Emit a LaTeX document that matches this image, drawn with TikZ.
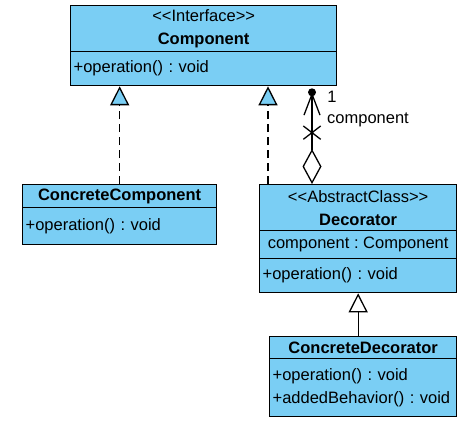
\documentclass[tikz,border=0pt]{standalone}
\usepackage{fontspec}
\setmainfont{Liberation Sans}
\usepackage{xcolor}
\usetikzlibrary{arrows.meta,shapes.misc}
\definecolor{umlblue}{RGB}{122,206,244}
\frenchspacing

\tikzset{
  part/.style={draw, fill=umlblue, line width=1.3pt, anchor=north west, inner ysep=0pt,
    font=\fontsize{16.5}{23}\selectfont},
  head/.style={part, align=center},
  ops/.style={part, align=left, inner xsep=3pt},
  real/.style={line width=1.3pt, dash pattern=on 8pt off 5pt,
    -{Triangle[fill=umlblue, length=19pt, width=19pt]}},
  inherit/.style={line width=1.3pt, -{Triangle[fill=white, length=19pt, width=19pt]}},
  lbl/.style={font=\fontsize{16.5}{20}\selectfont, inner sep=0pt}
}

\begin{document}
\begin{tikzpicture}[x=1pt, y=-1pt]
\useasboundingbox (0,0) rectangle (465,425);

% Component
\node[head, minimum width=266pt, minimum height=46pt] (cmpHead) at (70,5)
  {<{}<Interface>{}>\\\textbf{Component}};
\node[ops, text width=260pt, minimum height=34pt] (cmpOps) at (70,51) {+operation() : void};

% ConcreteComponent
\node[head, minimum width=194pt, minimum height=23pt] (ccHead) at (22,184) {\textbf{ConcreteComponent}};
\node[ops, text width=188pt, minimum height=37pt] (ccOps) at (22,207) {+operation() : void};

% Decorator
\node[head, minimum width=197pt, minimum height=46pt] (decHead) at (259,184)
  {<{}<AbstractClass>{}>\\\textbf{Decorator}};
\node[head, minimum width=197pt, minimum height=28pt] (decAttr) at (259,230) {component : Component};
\node[ops, text width=191pt, minimum height=34pt] (decOps) at (259,258) {+operation() : void};

% ConcreteDecorator
\node[head, minimum width=187pt, minimum height=22pt] (cdHead) at (269,336) {\textbf{ConcreteDecorator}};
\node[ops, text width=181pt, minimum height=58pt] (cdOps) at (269,358)
  {+operation() : void\\+addedBehavior() : void};

% realizations
\draw[real] (ccHead.north) -- (ccHead.north |- cmpOps.south);
\coordinate (decReal) at ([xshift=9pt]decHead.north west);
\draw[real] (decReal) -- (decReal |- cmpOps.south);

% composition
\coordinate (decComp) at ([xshift=53pt]decHead.north west);
\coordinate (cmpEnd) at ([yshift=-6pt]decComp |- cmpOps.south);
\draw[line width=1.3pt, {Diamond[fill=white, length=35pt, width=19pt]}-{Straight Barb[length=21pt, width=16pt]}]
  (decComp) -- (cmpEnd)
  node[cross out, draw, line width=1.3pt, minimum width=16pt, minimum height=12pt, inner sep=0pt, pos=0.56] (noNav) {};
\fill (cmpEnd) circle (4pt);
\node[lbl] (mult) at (332,97) {1};
\node[lbl] (role) at (368,120) {component};

% inheritance
\draw[inherit] (cdHead.north -| decOps.south) -- (decOps.south);
\end{tikzpicture}
\end{document}
